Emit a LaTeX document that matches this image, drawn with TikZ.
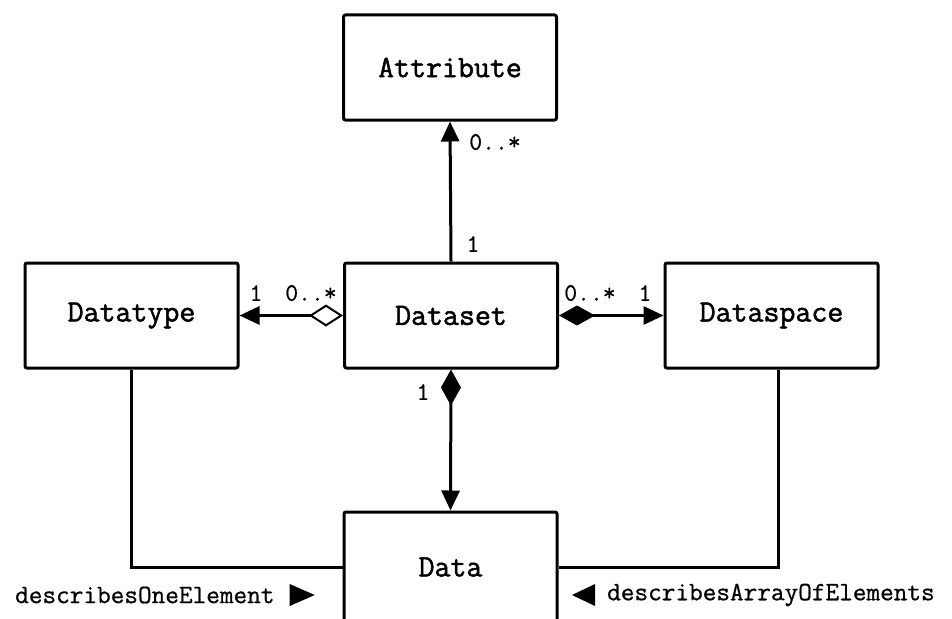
\documentclass[tikz,border=0pt]{standalone}
\usepackage{fontspec}
\newfontfamily\clsfont{Latin Modern Mono}[FakeBold=1.6]
\newfontfamily\lblfont{Latin Modern Mono}[FakeBold=0.7]
\usetikzlibrary{arrows.meta}
\tikzset{
  tri/.tip={Triangle[length=20pt,width=18pt]},
  odia/.tip={Diamond[open,length=34pt,width=22pt,line width=2pt]},
  fdia/.tip={Diamond[length=36pt,width=20pt]}
}
\begin{document}
\begin{tikzpicture}[x=1pt,y=-1pt,
  cls/.style={draw,line width=3pt,rounded corners=2pt,minimum width=213pt,minimum height=105pt,inner sep=0pt,font=\clsfont\fontsize{31}{34}\selectfont},
  mult/.style={inner sep=0pt,font=\lblfont\fontsize{25}{28}\selectfont},
  lbl/.style={inner sep=0pt,font=\lblfont\fontsize{26.5}{30}\selectfont},
  conn/.style={line width=3pt}]
\useasboundingbox (0,0) rectangle (952,618);
\clip (0,0) rectangle (952,618);
\node[cls] (attribute) at (450,67.5) {Attribute};
\node[cls] (dataset) at (451,315.5) {Dataset};
\node[cls] (datatype) at (131.5,315.5) {Datatype};
\node[cls] (dataspace) at (771.5,315.5) {Dataspace};
\node[cls,minimum height=110pt] (data) at (450.5,567) {Data};
% connectors
\draw[conn,-{tri}] (dataset.north) -- (attribute.south);
\draw[conn,{odia}-{tri}] (dataset.west) -- (datatype.east);
\draw[conn,{fdia}-{tri}] (dataset.east) -- (dataspace.west);
\draw[conn,{fdia}-{tri}] (dataset.south) -- (data.north);
\draw[conn] (datatype.south) |- (data.west);
\draw[conn] ([xshift=7pt]dataspace.south) |- (data.east);
% multiplicities
\node[mult] (m1) at (495,142) {0..*};
\node[mult] (m2) at (473,244) {1};
\node[mult] (m3) at (256,293) {1};
\node[mult] (m4) at (311,293) {0..*};
\node[mult] (m5) at (590,293) {0..*};
\node[mult] (m6) at (645,293) {1};
\node[mult] (m7) at (423,392) {1};
% role labels
\node[lbl,anchor=west] (r1) at (15,595) {describesOneElement};
\node[lbl,anchor=west] (r2) at (607,595) {describesArrayOfElements};
\fill ([xshift=15pt,yshift=11pt]r1.east) -- ++(25,11) -- ++(-25,11) -- cycle;
\fill ([xshift=-12pt,yshift=11pt]r2.west) -- ++(-23,11) -- ++(23,11) -- cycle;
\end{tikzpicture}
\end{document}
